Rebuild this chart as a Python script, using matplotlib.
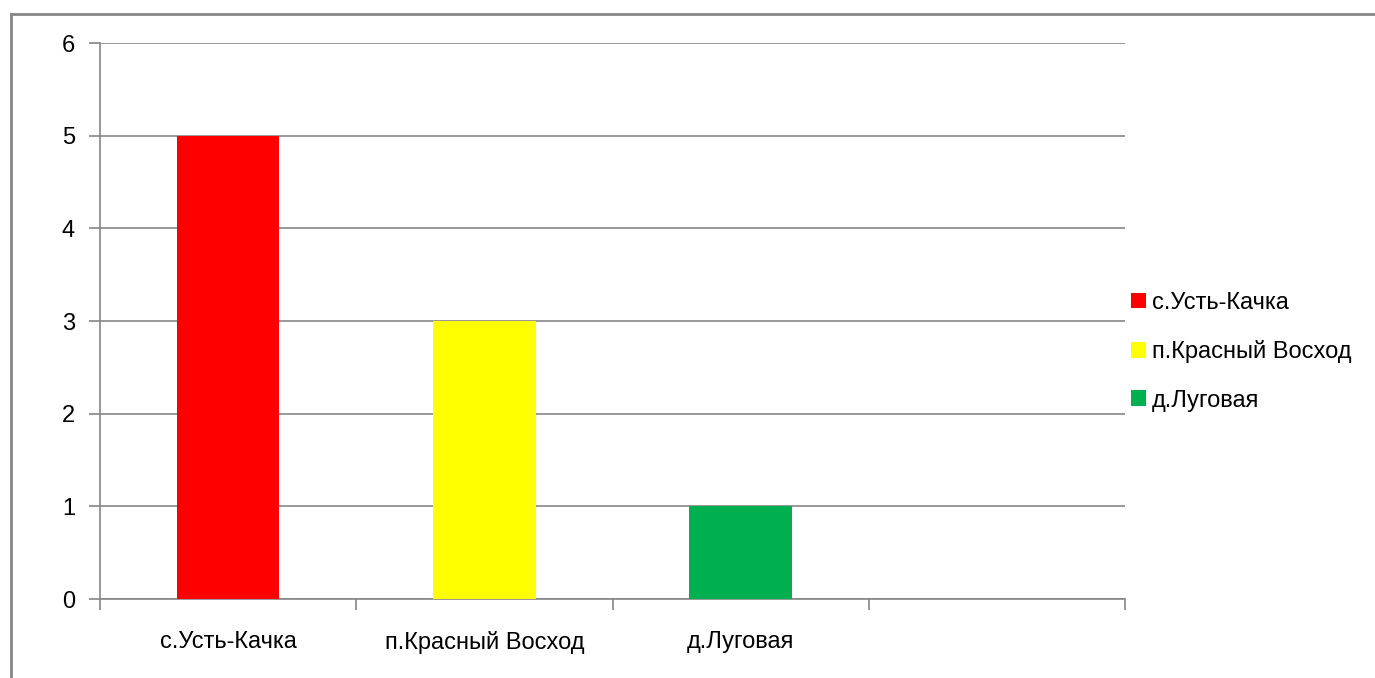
import matplotlib
matplotlib.use("Agg")
import matplotlib.pyplot as plt
from matplotlib.patches import Patch
from matplotlib.lines import Line2D

categories = ["с.Усть-Качка", "п.Красный Восход", "д.Луговая", ""]
values = [5, 3, 1]
colors = ["#FF0000", "#FFFF00", "#00B050"]
yticks = [0, 1, 2, 3, 4, 5, 6]

plt.rcParams['font.family'] = ['Liberation Sans', 'DejaVu Sans']
grey = "#868686"
fs = 17

fig = plt.figure(figsize=(13.75, 6.78), dpi=100)
W, H = 1375, 678
ax = fig.add_axes([100 / W, 1 - 599 / H, 1025 / W, 556 / H])

xs = list(range(len(values)))
ax.bar(xs, values, width=0.4, color=colors, zorder=3)

ax.set_xlim(-0.5, len(categories) - 0.5)
ax.set_ylim(0, 6)
ax.set_yticks(yticks)
ax.set_yticklabels([str(t) for t in yticks], fontsize=fs)
ax.yaxis.grid(True, color=grey, linewidth=1.2, zorder=0)
ax.set_axisbelow(True)

ax.set_xticks([i + 0.5 for i in range(-1, len(categories))])
ax.set_xticklabels([])
ax.set_xticks(range(len(categories)), minor=True)
ax.set_xticklabels(categories, minor=True, fontsize=fs)
ax.tick_params(axis='x', which='minor', length=0, pad=23)
ax.tick_params(axis='x', which='major', length=8, color=grey, width=1.2)
ax.tick_params(axis='y', length=8, color=grey, width=1.2, pad=10)

for s in ["top", "right"]:
    ax.spines[s].set_visible(False)
for s in ["left", "bottom"]:
    ax.spines[s].set_color(grey)
    ax.spines[s].set_linewidth(1.2)

handles = [Patch(facecolor=c, edgecolor='none') for c in colors]
leg = fig.legend(handles, categories[:3], loc='upper left',
                 bbox_to_anchor=(1126 / W, 1 - 287 / H), frameon=False,
                 fontsize=fs, handlelength=0.65, handleheight=0.65,
                 handletextpad=0.25, labelspacing=1.12, borderaxespad=0,
                 borderpad=0.2)

# outer chart frame
fig.add_artist(Line2D([11 / W, 11 / W], [0, 1 - 14 / H], color=grey, linewidth=2, transform=fig.transFigure))
fig.add_artist(Line2D([11 / W, 1], [1 - 14 / H, 1 - 14 / H], color=grey, linewidth=2, transform=fig.transFigure))

fig.savefig("out.png", dpi=100)
